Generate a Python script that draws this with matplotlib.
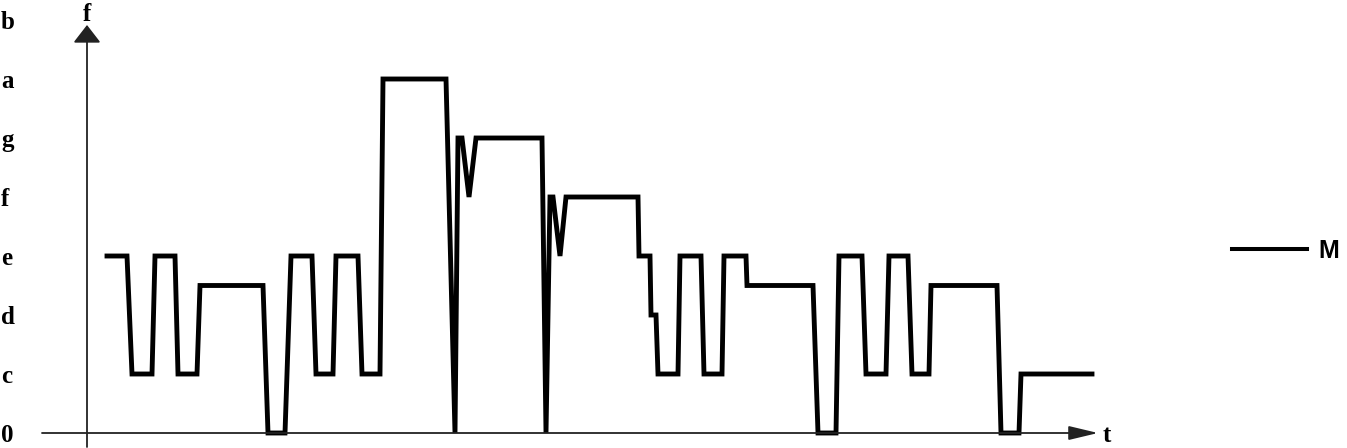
import matplotlib.pyplot as plt
from matplotlib.lines import Line2D

# time positions and pitch levels of the melody M (0, c, d, e, f, g, a, b -> 0..7)
t_points = [20, 40, 45, 65, 68, 88, 91, 110, 113, 176,
            181, 198, 204, 225, 229, 246, 249, 271, 275, 293,
            296, 359, 368, 371, 375, 382, 389, 455, 459, 463,
            466, 473, 479, 551, 552, 563, 564, 569, 571, 591,
            593, 614, 617, 635, 637, 659, 660, 726, 731, 749,
            752, 775, 779, 799, 802, 821, 825, 842, 844, 910,
            914, 932, 934, 1005]
f_levels = [3, 3, 1, 1, 3, 3, 1, 1, 2.5, 2.5,
            0, 0, 3, 3, 1, 1, 3, 3, 1, 1,
            6, 6, 0, 5, 5, 4, 5, 5, 0, 4,
            4, 3, 4, 4, 3, 3, 2, 2, 1, 1,
            3, 3, 1, 1, 3, 3, 2.5, 2.5, 0, 0,
            3, 3, 1, 1, 3, 3, 1, 1, 2.5, 2.5,
            0, 0, 1, 1]
note_levels = [0, 1, 2, 3, 4, 5, 6, 7]
note_labels = ["0", "c", "d", "e", "f", "g", "a", "b"]
series_name = "M"

W, H = 1347, 448
fig = plt.figure(figsize=(W / 100, H / 100), dpi=100)
ax = fig.add_axes([87 / W, 0, (W - 87) / W, 1])
unit = 59  # pixels per pitch step
ax.set_xlim(0, W - 87)
ax.set_ylim(-15 / unit, 433 / unit)
for s in ax.spines.values():
    s.set_visible(False)

ax.plot(t_points, f_levels, color="black", lw=3.5, solid_joinstyle="miter")

# axes with arrows
ax.annotate("", xy=(1011, 0), xytext=(-45, 0), annotation_clip=False,
            arrowprops=dict(arrowstyle="-|>,head_length=1.8,head_width=0.43",
                            color="#222222", lw=1.3, shrinkA=0, shrinkB=0))
ax.annotate("", xy=(0, 408 / unit), xytext=(0, -14 / unit), annotation_clip=False,
            arrowprops=dict(arrowstyle="-|>,head_length=1.1,head_width=0.85",
                            color="#222222", lw=1.3, shrinkA=0, shrinkB=0))
serif = dict(family="Liberation Serif", weight="bold", fontsize=18)
ax.text(1016, -0.05, "t", ha="left", va="center", **serif)
ax.text(0, 430 / unit, "f", ha="center", va="top", **serif)

ax.set_xticks([])
ax.set_yticks(note_levels, labels=note_labels)
ax.tick_params(axis="y", length=0, pad=62)
for lbl in ax.get_yticklabels():
    lbl.set_horizontalalignment("left")
    lbl.set_fontfamily("Liberation Serif")
    lbl.set_fontweight("bold")
    lbl.set_fontsize(18)

handle = Line2D([], [], color="black", lw=2.9)
fig.legend([handle], [series_name], loc="center left",
           bbox_to_anchor=(1232 / W, 1 - 251 / H), frameon=False,
           borderpad=0, borderaxespad=0, handlelength=3.0,
           handletextpad=0.45,
           prop=dict(family="Liberation Sans", weight="bold", size=18))

fig.savefig("out.png", dpi=100)
